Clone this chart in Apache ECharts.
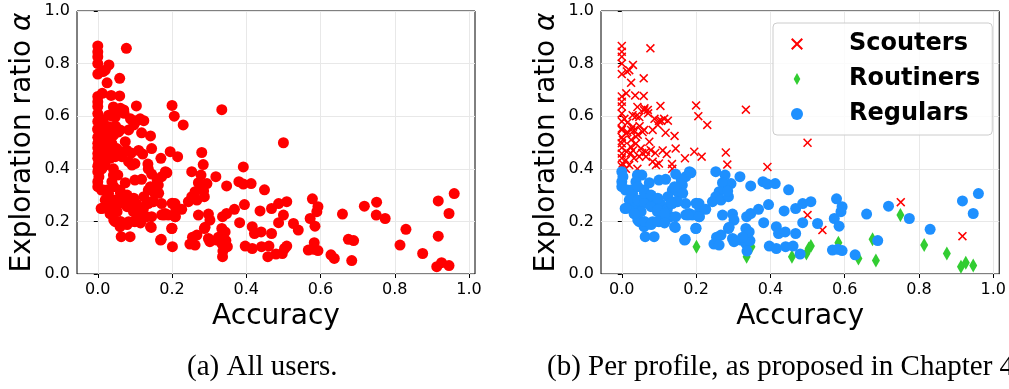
<!DOCTYPE html>
<html>
<head>
<meta charset="utf-8">
<script src="https://cdn.jsdelivr.net/npm/echarts@6/dist/echarts.min.js"></script>
<style>
html,body{margin:0;padding:0;background:#fff;}
#chart{width:1009px;height:389px;}
</style>
</head>
<body>
<div id="chart"></div>
<script>
// ---- data (accuracy, exploration ratio) ----
const profileNames = ['Scouters', 'Routiners', 'Regulars'];
const xTicks = [0, 0.2, 0.4, 0.6, 0.8, 1.0];
const yTicks = [0, 0.2, 0.4, 0.6, 0.8, 1.0];
const captions = ['(a) All users.', '(b) Per profile, as proposed in Chapter 4.'];

const scouters = [
  [0.0,0.867],[0.077,0.858],[0.0,0.845],[0.0,0.826],[0.0,0.80],[0.030,0.795],[0.02,0.775],[0.0,0.76],
  [0.014,0.77],[0.025,0.727],[0.059,0.744],[0.0,0.675],[0.012,0.687],[0.036,0.679],[0.059,0.677],
  [0.0,0.655],[0.0,0.637],[0.104,0.639],[0.2,0.641],[0.206,0.60],[0.23,0.567],[0.061,0.63],[0.07,0.624],
  [0.071,0.611],[0.0385,0.60],[0.007,0.59],[0.088,0.59],[0.124,0.583],[0.106,0.583],[0.097,0.567],
  [0.083,0.548],[0.142,0.525],[0.0,0.548],[0.012,0.535],[0.025,0.548],[0.043,0.529],[0.06,0.548],
  [0.003,0.51],[0.025,0.51],[0.0,0.497],
  [0.048,0.562],[0.1,0.582],[0.114,0.59],[0.118,0.537],[0.145,0.477],[0.11,0.47],[0.121,0.456],
  [0.10,0.42],[0.135,0.418],[0.136,0.40],[0.17,0.44],[0.195,0.465],[0.215,0.446],[0.28,0.462],
  [0.284,0.416],[0.392,0.407],[0.334,0.625],[0.5,0.499],[0.751,0.273],[0.5,0.224],[0.54,0.167],[0.917,0.144],
  [0.024,0.484],[0.038,0.496],[0.051,0.477],[0.065,0.465],[0.078,0.471],[0.047,0.446],[0.033,0.44],
  [0.011,0.433],[0.002,0.42],[0.02,0.414],[0.065,0.446],[0.083,0.427],[0.092,0.414],[0.042,0.40],
  [0.011,0.40],[0.024,0.459],[0.038,0.522],[0.056,0.54],[0.033,0.547],[0.015,0.54],[0.0,0.553],
  [0.0,0.52],[0.0,0.48],[0.0,0.458],[0.074,0.503],[0.047,0.597],[0.029,0.604],[0.06,0.623],[0.042,0.635],
  [0.0,0.61],[0.0,0.58],[0.0,0.44],[0.0,0.41],[0.013,0.465],[0.03,0.47],[0.055,0.46],[0.09,0.46],
  [0.015,0.575],[0.03,0.56]
];

const routiners = [
  [0.201,0.104],[0.349,0.104],[0.336,0.066],[0.458,0.066],[0.497,0.078],[0.503,0.097],[0.509,0.106],
  [0.583,0.119],[0.637,0.059],[0.675,0.132],[0.684,0.051],[0.75,0.224],[0.814,0.11],[0.875,0.078],
  [0.913,0.028],[0.926,0.043],[0.946,0.032]
];

const regulars = [
  [0.0,0.389],[0.003,0.37],[0.0,0.351],[0.0,0.332],[0.009,0.249],[0.015,0.319],[0.029,0.306],[0.042,0.376],
  [0.054,0.376],[0.038,0.351],[0.074,0.347],[0.1,0.357],[0.118,0.36],[0.145,0.38],[0.186,0.385],[0.172,0.37],
  [0.163,0.338],[0.154,0.306],[0.136,0.319],[0.136,0.268],[0.145,0.275],[0.172,0.268],[0.06,0.319],[0.065,0.294],
  [0.078,0.281],[0.092,0.268],[0.105,0.266],[0.096,0.237],[0.11,0.23],[0.123,0.249],[0.132,0.218],[0.145,0.218],
  [0.118,0.205],[0.1,0.199],[0.083,0.199],[0.065,0.192],[0.047,0.199],[0.06,0.18],[0.033,0.23],[0.02,0.256],
  [0.047,0.256],[0.02,0.281],[0.038,0.275],[0.063,0.142],[0.087,0.142],[0.144,0.177],[0.172,0.225],[0.181,0.23],
  [0.19,0.224],[0.182,0.389],[0.16,0.357],[0.142,0.332],[0.164,0.307],[0.15,0.275],[0.2,0.269],[0.209,0.218],
  [0.2,0.174],[0.21,0.25],[0.169,0.129],[0.142,0.18],[0.012,0.25],[0.01,0.319],[0.025,0.288],[0.043,0.281],
  [0.061,0.269],[0.079,0.256],[0.097,0.243],[0.115,0.231],[0.043,0.205],[0.061,0.20],[0.079,0.188],[0.097,0.20],
  [0.115,0.194],[0.052,0.237],[0.034,0.23],[0.025,0.319],[0.043,0.332],[0.061,0.307],[0.079,0.30],[0.097,0.288],
  [0.124,0.294],[0.133,0.27],[0.178,0.224],
  [0.253,0.389],[0.278,0.376],[0.318,0.37],[0.347,0.335],[0.38,0.351],[0.392,0.342],[0.413,0.344],[0.449,0.32],
  [0.294,0.344],[0.271,0.347],[0.262,0.313],[0.253,0.294],[0.244,0.275],[0.267,0.281],[0.287,0.294],[0.285,0.316],
  [0.208,0.268],[0.226,0.246],[0.208,0.218],[0.199,0.173],[0.171,0.132],[0.271,0.224],[0.298,0.228],[0.302,0.205],
  [0.287,0.173],[0.267,0.148],[0.255,0.14],[0.248,0.114],[0.262,0.11],[0.298,0.135],[0.32,0.129],[0.334,0.116],
  [0.345,0.127],[0.337,0.087],[0.334,0.173],[0.343,0.16],[0.336,0.218],[0.347,0.23],[0.368,0.246],[0.382,0.195],
  [0.395,0.264],[0.397,0.106],[0.416,0.097],[0.416,0.18],[0.422,0.154],[0.44,0.16],[0.437,0.24],[0.441,0.104],
  [0.461,0.106],[0.468,0.249],[0.468,0.154],[0.48,0.076],[0.487,0.195],[0.487,0.268],[0.509,0.275],[0.527,0.192],
  [0.567,0.091],[0.581,0.094],[0.593,0.089],[0.572,0.211],[0.585,0.182],[0.59,0.237],[0.593,0.256],[0.578,0.286],
  [0.628,0.073],[0.659,0.228],[0.689,0.127],[0.718,0.258],[0.774,0.211],[0.83,0.17],[0.917,0.278],[0.946,0.23],
  [0.96,0.306],[0.325,0.14],[0.302,0.123],[0.289,0.178]
];

// ---- chart ----
const allUsers = scouters.concat(routiners, regulars);
const xMark = 'path://M1.2,0L5,3.8L8.8,0L10,1.2L6.2,5L10,8.8L8.8,10L5,6.2L1.2,10L0,8.8L3.8,5L0,1.2Z';
const thinDiamond = 'path://M5,0L10,9L5,18L0,9Z';
const sans = 'DejaVu Sans';
const serif = 'Liberation Serif';

function makeX(gridIndex) {
  return {
    type: 'value', gridIndex: gridIndex, min: -0.056, max: 1.016,
    name: 'Accuracy', nameLocation: 'middle', nameGap: 27,
    nameTextStyle: {fontFamily: sans, fontSize: 28, color: '#000'},
    axisLine: {show: false},
    axisTick: {show: true, customValues: xTicks, length: 4, lineStyle: {color: '#000'}},
    axisLabel: {customValues: xTicks, fontFamily: sans, fontSize: 16, color: '#000', margin: 8,
      formatter: v => v.toFixed(1)},
    splitLine: {show: true, lineStyle: {color: '#e8e8e8', width: 1}}
  };
}
function makeY(gridIndex) {
  return {
    type: 'value', gridIndex: gridIndex, min: 0, max: 1, interval: 0.2,
    name: 'Exploration ratio {a|α}', nameLocation: 'middle', nameGap: 40,
    nameTextStyle: {fontFamily: sans, fontSize: 28, color: '#000',
      rich: {a: {fontFamily: sans, fontSize: 28, fontStyle: 'italic', color: '#000'}}},
    axisLine: {show: false},
    axisTick: {show: true, length: 4, lineStyle: {color: '#000'}},
    axisLabel: {fontFamily: sans, fontSize: 16, color: '#000', margin: 7,
      formatter: v => v.toFixed(1)},
    splitLine: {show: true, lineStyle: {color: '#e8e8e8', width: 1}}
  };
}

const chart = echarts.init(document.getElementById('chart'), null, {renderer: 'canvas'});
chart.setOption({
  animation: false,
  backgroundColor: '#fff',
  title: [
    {text: captions[0], left: 187, top: 353, padding: 0,
     textStyle: {fontFamily: serif, fontSize: 29, fontWeight: 'normal', color: '#000'}},
    {text: captions[1], left: 547, top: 353, padding: 0,
     textStyle: {fontFamily: serif, fontSize: 29, fontWeight: 'normal', color: '#000'}}
  ],
  grid: [
    {left: 77, top: 11, width: 398, height: 263, show: true, borderColor: '#000', borderWidth: 1, backgroundColor: 'transparent'},
    {left: 601, top: 11, width: 399, height: 263, show: true, borderColor: '#000', borderWidth: 1, backgroundColor: 'transparent'}
  ],
  xAxis: [makeX(0), makeX(1)],
  yAxis: [makeY(0), makeY(1)],
  legend: {
    left: 773, top: 23, orient: 'vertical',
    data: [
      {name: profileNames[0], icon: xMark},
      {name: profileNames[1], icon: thinDiamond},
      {name: profileNames[2], icon: 'circle'}
    ],
    itemWidth: 30, itemHeight: 12, itemGap: 11,
    padding: [9, 12, 9, 18],
    backgroundColor: 'rgba(255,255,255,0.8)',
    borderColor: '#cccccc', borderWidth: 1, borderRadius: 4,
    textStyle: {fontFamily: sans, fontSize: 24, fontWeight: 'bold', color: '#000', padding: [0, 0, 0, 32]}
  },
  series: [
    {name: 'All users', type: 'scatter', xAxisIndex: 0, yAxisIndex: 0, data: allUsers,
     symbol: 'circle', symbolSize: 11, itemStyle: {color: '#ff0000', opacity: 1}},
    {name: profileNames[0], type: 'scatter', xAxisIndex: 1, yAxisIndex: 1, data: scouters,
     symbol: xMark, symbolSize: 9, itemStyle: {color: '#ff0000', opacity: 1}},
    {name: profileNames[1], type: 'scatter', xAxisIndex: 1, yAxisIndex: 1, data: routiners,
     symbol: thinDiamond, symbolSize: [8, 14], itemStyle: {color: '#32cd32', opacity: 1}},
    {name: profileNames[2], type: 'scatter', xAxisIndex: 1, yAxisIndex: 1, data: regulars,
     symbol: 'circle', symbolSize: 11, itemStyle: {color: '#1e90ff', opacity: 1}}
  ]
});
</script>
</body>
</html>
